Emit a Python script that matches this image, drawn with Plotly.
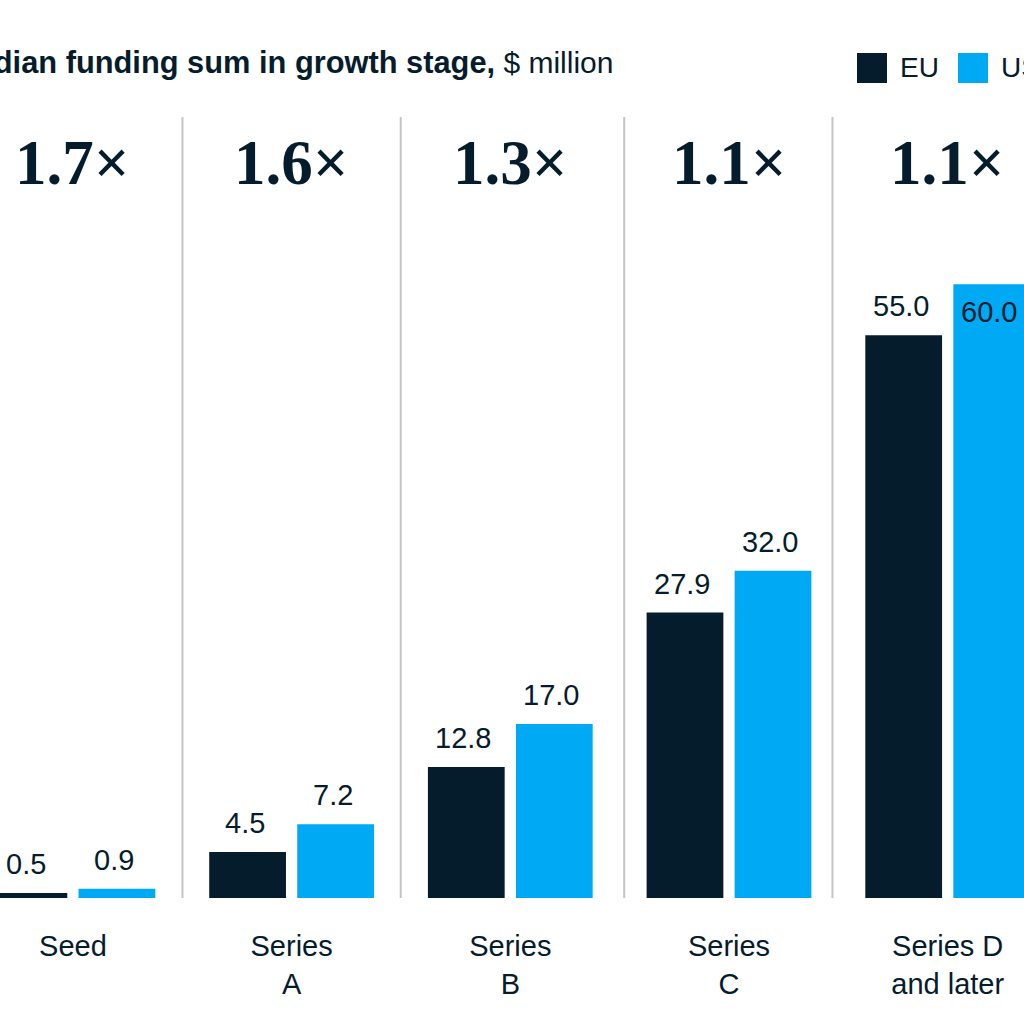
import plotly.graph_objects as go

# ---------------- data ----------------
categories = ["Seed", "Series<br>A", "Series<br>B", "Series<br>C", "Series D<br>and later"]
eu_values = [0.5, 4.5, 12.8, 27.9, 55.0]
us_values = [0.9, 7.2, 17.0, 32.0, 60.0]
multipliers = ["1.7×", "1.6×", "1.3×", "1.1×", "1.1×"]
series_names = ["EU", "US"]
title_bold = "Median funding sum in growth stage,"
title_unit = "$ million"

# ---------------- style ----------------
W, H = 1024, 1024
BASE_PX = 898          # pixel row of the bar baseline
PX_PER_UNIT = 10.23
GROUP_PX = 218.7       # pixel distance between category centres
FIRST_PX = 72.9        # pixel of first category centre
EU_COLOR = "#051C2C"
US_COLOR = "#00A9F4"
TEXT_COLOR = "#051C2C"
DIV_COLOR = "#C4C4C4"
SANS = "Liberation Sans, Arial, sans-serif"
SERIF = "Liberation Serif, Times New Roman, serif"
BARGAP = 0.195
BARGROUPGAP = 0.128
DIVIDERS_X = [0.501, 1.499, 2.521, 3.473]
INSIDE_LABEL = [[False] * 5, [False, False, False, False, True]]

x_idx = list(range(len(categories)))
x0 = -FIRST_PX / GROUP_PX
x1 = x0 + W / GROUP_PX
y_top = BASE_PX / PX_PER_UNIT


def py(p):
    """pixel row -> paper y"""
    return 1 - p / BASE_PX


def px(p):
    return p / W


fig = go.Figure()
for name, vals, col in [(series_names[0], eu_values, EU_COLOR),
                        (series_names[1], us_values, US_COLOR)]:
    fig.add_trace(go.Bar(x=x_idx, y=vals, name=name, marker_color=col,
                         marker_line_width=0, showlegend=False,
                         hoverinfo="skip"))

annotations = []
shapes = []

# value labels
slot = (1 - BARGAP) / 2
for s, vals in enumerate([eu_values, us_values]):
    off = -slot / 2 if s == 0 else slot / 2
    for i, v in enumerate(vals):
        inside = INSIDE_LABEL[s][i]
        annotations.append(dict(
            x=i + off, y=v, xref="x", yref="y", text=f"{v:.1f}",
            showarrow=False, xanchor="center",
            yanchor="top" if inside else "bottom",
            yshift=-10 if inside else 11, xshift=-3,
            font=dict(family=SANS, size=29, color=TEXT_COLOR)))

# multipliers
for i, m in enumerate(multipliers):
    annotations.append(dict(
        x=i, y=py(163), xref="x", yref="paper", text=f"<b>{m}</b>",
        showarrow=False, xanchor="center", yanchor="middle", xshift=0,
        font=dict(family=SERIF, size=63, color=TEXT_COLOR)))

# title (left part falls outside the frame, as in the reference)
annotations.append(dict(
    x=px(615), y=py(63), xref="paper", yref="paper",
    text=(f"<span style='font-size:30.8px'><b>{title_bold}</b></span>"
          f" {title_unit}"),
    showarrow=False, xanchor="right", yanchor="middle",
    font=dict(family=SANS, size=30, color=TEXT_COLOR)))

# legend
leg = [(857, series_names[0], EU_COLOR), (958, series_names[1], US_COLOR)]
for lx, name, col in leg:
    shapes.append(dict(type="rect", xref="paper", yref="paper",
                       x0=px(lx), x1=px(lx + 30), y0=py(83), y1=py(53),
                       fillcolor=col, line_width=0))
    annotations.append(dict(
        x=px(lx + 41), y=py(68), xref="paper", yref="paper", text=name,
        showarrow=False, xanchor="left", yanchor="middle",
        font=dict(family=SANS, size=28, color=TEXT_COLOR)))

# dividers
for d in DIVIDERS_X:
    shapes.append(dict(type="line", xref="x", yref="paper", x0=d, x1=d,
                       y0=0, y1=py(117), line=dict(color=DIV_COLOR, width=2)))

fig.update_layout(
    width=W, height=H,
    margin=dict(l=0, r=0, t=0, b=H - BASE_PX, pad=0),
    paper_bgcolor="white", plot_bgcolor="white",
    barmode="group", bargap=BARGAP, bargroupgap=BARGROUPGAP,
    annotations=annotations, shapes=shapes,
    xaxis=dict(range=[x0, x1], tickvals=x_idx, ticktext=categories,
               showgrid=False, zeroline=False, showline=False,
               ticks="", ticklabelstandoff=28,
               tickfont=dict(family=SANS, size=29, color=TEXT_COLOR),
               fixedrange=True),
    yaxis=dict(range=[0, y_top], visible=False, fixedrange=True),
    font=dict(family=SANS, color=TEXT_COLOR),
)

fig.write_html("out.html", config={"displayModeBar": False})
